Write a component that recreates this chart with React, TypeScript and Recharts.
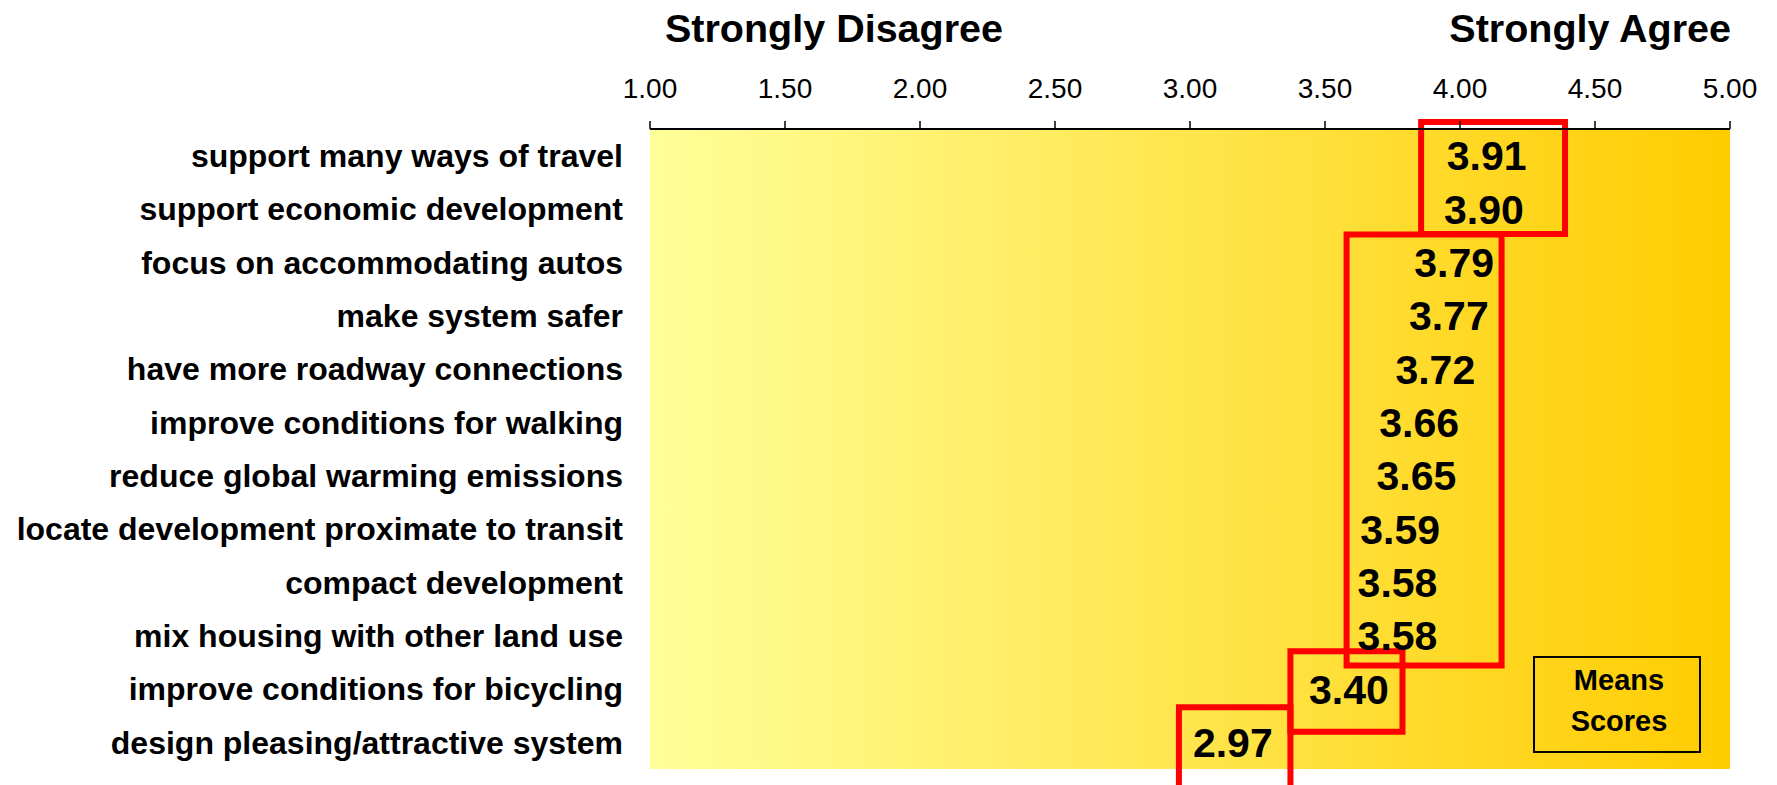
import React from 'react';
import { ScatterChart, Scatter, XAxis, YAxis, ReferenceArea } from 'recharts';

const FONT = '"Liberation Sans", Arial, sans-serif';

// survey statements, top to bottom
const statements = [
  'support many ways of travel',
  'support economic development',
  'focus on accommodating autos',
  'make system safer',
  'have more roadway connections',
  'improve conditions for walking',
  'reduce global warming emissions',
  'locate development proximate to transit',
  'compact development',
  'mix housing with other land use',
  'improve conditions for bicycling',
  'design pleasing/attractive system',
];

// mean agreement score per statement (1 = strongly disagree, 5 = strongly agree)
const meanScores = [3.91, 3.9, 3.79, 3.77, 3.72, 3.66, 3.65, 3.59, 3.58, 3.58, 3.4, 2.97];

const scaleTicks = [1, 1.5, 2, 2.5, 3, 3.5, 4, 4.5, 5];

// red outlines grouping statements with similar scores (score units / row index units)
const groupX1 = [3.856, 3.58, 3.372, 2.959];
const groupX2 = [4.389, 4.154, 3.787, 3.372];
const groupY1 = [-0.63, 1.48, 9.29, 10.34];
const groupY2 = [1.47, 9.56, 10.8, 12.3];

const rows = meanScores.map((score, idx) => ({ idx, score, name: statements[idx] }));

const ScoreText = (props: any) => {
  const { cx, cy, payload } = props;
  return (
    <text
      x={cx + 11}
      y={cy + 14.5}
      fontFamily={FONT}
      fontSize={41}
      fontWeight="bold"
      fill="#000"
    >
      {payload.score.toFixed(2)}
    </text>
  );
};

export default function App() {
  return (
    <div style={{ position: 'absolute', left: 0, top: 0, width: 1777, height: 785, background: '#fff' }}>
      <svg width={0} height={0} style={{ position: 'absolute' }}>
        <defs>
          <linearGradient id="meanBg" x1="0" y1="0" x2="1" y2="0">
            <stop offset="0%" stopColor="#FFFF99" />
            <stop offset="100%" stopColor="#FFCC00" />
          </linearGradient>
        </defs>
      </svg>
      <ScatterChart width={1777} height={785} margin={{ top: 0, right: 47, bottom: 16, left: 0 }}>
        <XAxis
          type="number"
          dataKey="score"
          orientation="top"
          domain={[1, 5]}
          ticks={scaleTicks}
          interval={0}
          height={129}
          tickSize={8}
          tickMargin={23}
          tickFormatter={(v: number) => v.toFixed(2)}
          axisLine={{ stroke: '#000', strokeWidth: 2 }}
          tickLine={{ stroke: '#000', strokeWidth: 1.5 }}
          tick={{ fill: '#000', fontSize: 28, fontFamily: FONT }}
        />
        <YAxis
          type="number"
          dataKey="idx"
          reversed
          domain={[-0.5, 11.5]}
          ticks={statements.map((_, i) => i)}
          interval={0}
          width={650}
          axisLine={false}
          tickLine={false}
          tickSize={0}
          tickMargin={27}
          tickFormatter={(i: number) => statements[i] ?? ''}
          tick={{ fill: '#000', fontSize: 32, fontWeight: 'bold', fontFamily: FONT }}
        />
        <ReferenceArea x1={1} x2={5} y1={-0.5} y2={11.5} fill="url(#meanBg)" fillOpacity={1} stroke="none" />
        <Scatter data={rows} shape={ScoreText} isAnimationActive={false} />
        {groupX1.map((x1, i) => (
          <ReferenceArea
            key={i}
            x1={x1}
            x2={groupX2[i]}
            y1={groupY1[i]}
            y2={groupY2[i]}
            ifOverflow="visible"
            fill="none"
            stroke="#FF0000"
            strokeWidth={6}
          />
        ))}
      </ScatterChart>
      <svg
        width={1777}
        height={785}
        style={{ position: 'absolute', left: 0, top: 0, pointerEvents: 'none' }}
        fontFamily={FONT}
        fontWeight="bold"
      >
        <text x={834} y={42} fontSize={39.5} textAnchor="middle">Strongly Disagree</text>
        <text x={1731} y={42} fontSize={39.5} textAnchor="end">Strongly Agree</text>
        <rect x={1534} y={657} width={166} height={95} fill="none" stroke="#000" strokeWidth={2} />
        <text x={1619} y={690} fontSize={29} textAnchor="middle">Means</text>
        <text x={1619} y={731} fontSize={29} textAnchor="middle">Scores</text>
      </svg>
    </div>
  );
}
